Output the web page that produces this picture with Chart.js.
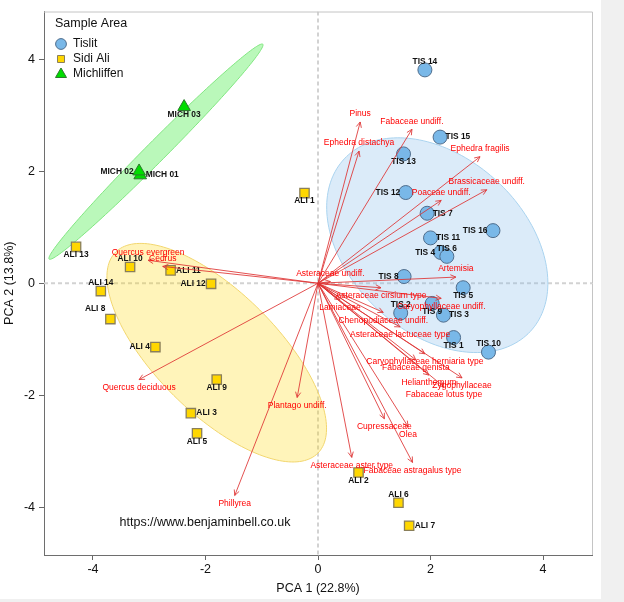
<!DOCTYPE html>
<html><head><meta charset="utf-8">
<script src="https://cdn.jsdelivr.net/npm/chart.js@4.4.1/dist/chart.umd.min.js"></script>
<style>
html,body{margin:0;padding:0;background:#f0f0f0;}
#wrap{width:601px;height:599px;background:#fff;}
canvas{display:block;}
</style></head><body>
<div id="wrap"><canvas id="c" width="601" height="599"></canvas></div>
<script>
// ---- data ----
const xTicks = [-4, -2, 0, 2, 4];
const yTicks = [-4, -2, 0, 2, 4];

const tislitNames = ['TIS 1','TIS 2','TIS 3','TIS 4','TIS 5','TIS 6','TIS 7','TIS 8','TIS 9','TIS 10','TIS 11','TIS 12','TIS 13','TIS 14','TIS 15','TIS 16'];
const tislitX = [2.41, 1.47, 2.23, 2.18, 2.58, 2.29, 1.94, 1.53, 2.03, 3.03, 2.00, 1.56, 1.52, 1.90, 2.17, 3.11];
const tislitY = [-0.97, -0.53, -0.57, 0.55, -0.08, 0.48, 1.25, 0.12, -0.36, -1.23, 0.81, 1.62, 2.31, 3.81, 2.61, 0.94];

const sidiNames = ['ALI 1','ALI 2','ALI 3','ALI 4','ALI 5','ALI 6','ALI 7','ALI 8','ALI 9','ALI 10','ALI 11','ALI 12','ALI 13','ALI 14'];
const sidiX = [-0.24, 0.72, -2.26, -2.89, -2.15, 1.43, 1.62, -3.69, -1.80, -3.34, -2.62, -1.90, -4.30, -3.86];
const sidiY = [1.61, -3.38, -2.32, -1.14, -2.68, -3.92, -4.33, -0.64, -1.72, 0.29, 0.23, -0.01, 0.65, -0.14];

const michNames = ['MICH 01','MICH 02','MICH 03'];
const michX = [-3.16, -3.18, -2.38];
const michY = [1.93, 2.00, 3.15];

const taxaNames = ['Pinus','Ephedra distachya','Fabaceae undiff.','Ephedra fragilis','Brassicaceae undiff.','Poaceae undiff.','Artemisia','Asteraceae undiff.','Quercus evergreen','Cedrus','Asteraceae cirsium type','Caryophyllaceae undiff.','Lamiaceae','Chenopodiaceae undiff.','Asteraceae lactuceae type','Caryophyllaceae herniaria type','Fabaceae genista','Helianthemum','Zygophyllaceae','Fabaceae lotus type','Cupressaceae','Olea','Asteraceae aster type','Fabaceae astragalus type','Plantago undiff.','Phillyrea','Quercus deciduous'];
const taxaX = [0.75, 0.73, 1.67, 2.88, 3.00, 2.19, 2.45, 0.22, -3.02, -2.76, 1.12, 2.19, 0.39, 1.16, 1.46, 1.90, 1.74, 1.97, 2.56, 2.24, 1.18, 1.60, 0.60, 1.68, -0.37, -1.48, -3.18];
const taxaY = [2.88, 2.36, 2.75, 2.26, 1.67, 1.48, 0.11, 0.03, 0.41, 0.30, -0.08, -0.27, -0.30, -0.52, -0.78, -1.26, -1.37, -1.64, -1.69, -1.85, -2.42, -2.56, -3.11, -3.20, -2.04, -3.79, -1.72];

// confidence ellipses (data units): centre, semi-axes, rotation in degrees
const ellipseGroups = ['Tislit', 'Sidi Ali', 'Michliffen'];
const ellipseCX = [2.12, -1.80, -2.88];
const ellipseCY = [0.68, -1.24, 2.35];
const ellipseA = [2.26, 2.54, 2.70];
const ellipseB = [1.56, 1.08, 0.18];
const ellipseAngle = [-43, -45, 45.3];

// ---- label placement (layout only) ----
const tislitSide = ['bottom','top','right','left','bottom','top','right','left','bottom','top','right','left','bottom','top','right','left'];
const sidiSide = ['bottom','bottom','right','left','bottom','top','right','upleft','bottom','top','right','left','bottom','top'];
const michSide = ['right','left','bottom'];

// ---- styles ----
const F = '"Liberation Sans", Arial, Helvetica, sans-serif';
const groupFill = ['#79b8e8', '#ffd700', '#00dd00'];
const groupBorder = ['#4f6d8c', '#8a7f5a', '#2c7a2c'];
const ellipseFill = ['rgba(135,190,235,0.30)', 'rgba(255,215,0,0.27)', 'rgba(0,230,0,0.27)'];
const ellipseStroke = ['#a9d3ef', '#f2d66e', '#80e680'];

function pts(xs, ys) { return xs.map((v, i) => ({x: v, y: ys[i]})); }

const overlay = {
  id: 'overlay',
  beforeDatasetsDraw(chart) {
    const {ctx, chartArea: ca, scales: {x, y}} = chart;
    ctx.save();
    ctx.beginPath(); ctx.rect(ca.left, ca.top, ca.right - ca.left, ca.bottom - ca.top); ctx.clip();
    const x0 = x.getPixelForValue(0), y0 = y.getPixelForValue(0);
    ctx.strokeStyle = '#d2d2d2'; ctx.lineWidth = 2; ctx.setLineDash([4, 3]);
    ctx.beginPath();
    ctx.moveTo(x0, ca.top); ctx.lineTo(x0, ca.bottom);
    ctx.moveTo(ca.left, y0); ctx.lineTo(ca.right, y0);
    ctx.stroke();
    ctx.setLineDash([]);
    for (let i = 0; i < ellipseGroups.length; i++) {
      const th = ellipseAngle[i] * Math.PI / 180;
      ctx.beginPath();
      for (let k = 0; k <= 180; k++) {
        const t = k / 180 * 2 * Math.PI;
        const ex = ellipseA[i] * Math.cos(t), ey = ellipseB[i] * Math.sin(t);
        const dx = ellipseCX[i] + ex * Math.cos(th) - ey * Math.sin(th);
        const dy = ellipseCY[i] + ex * Math.sin(th) + ey * Math.cos(th);
        const px = x.getPixelForValue(dx), py = y.getPixelForValue(dy);
        if (k) ctx.lineTo(px, py); else ctx.moveTo(px, py);
      }
      ctx.closePath();
      ctx.fillStyle = ellipseFill[i]; ctx.fill();
      ctx.strokeStyle = ellipseStroke[i]; ctx.lineWidth = 1; ctx.stroke();
    }
    ctx.restore();
  },
  afterDatasetsDraw(chart) {
    const {ctx, scales: {x, y}} = chart;
    ctx.save();
    // point labels
    ctx.font = 'bold 8.4px ' + F;
    ctx.fillStyle = '#111';
    const groups = [[tislitNames, tislitX, tislitY, tislitSide], [sidiNames, sidiX, sidiY, sidiSide], [michNames, michX, michY, michSide]];
    groups.forEach(([names, xs, ys, sides]) => {
      names.forEach((n, i) => {
        const px = x.getPixelForValue(xs[i]), py = y.getPixelForValue(ys[i]);
        const s = sides[i];
        ctx.textBaseline = 'middle';
        if (s === 'top') { ctx.textAlign = 'center'; ctx.fillText(n, px, py - 8); }
        else if (s === 'bottom') { ctx.textAlign = 'center'; ctx.fillText(n, px, py + 8); }
        else if (s === 'left') { ctx.textAlign = 'right'; ctx.fillText(n, px - 5.5, py); }
        else if (s === 'upleft') { ctx.textAlign = 'right'; ctx.fillText(n, px - 5, py - 10); }
        else { ctx.textAlign = 'left'; ctx.fillText(n, px + 5.5, py); }
      });
    });
    // arrows
    const ox = x.getPixelForValue(0), oy = y.getPixelForValue(0);
    ctx.strokeStyle = 'rgba(222,50,50,0.85)'; ctx.lineWidth = 1;
    taxaNames.forEach((n, i) => {
      const px = x.getPixelForValue(taxaX[i]), py = y.getPixelForValue(taxaY[i]);
      const a = Math.atan2(py - oy, px - ox), L = 6, sp = 0.45;
      ctx.beginPath();
      ctx.moveTo(ox, oy); ctx.lineTo(px, py);
      ctx.moveTo(px - L * Math.cos(a - sp), py - L * Math.sin(a - sp));
      ctx.lineTo(px, py);
      ctx.lineTo(px - L * Math.cos(a + sp), py - L * Math.sin(a + sp));
      ctx.stroke();
    });
    ctx.font = '8.5px ' + F;
    ctx.fillStyle = '#ff0000'; ctx.textAlign = 'center'; ctx.textBaseline = 'middle';
    taxaNames.forEach((n, i) => {
      const px = x.getPixelForValue(taxaX[i]), py = y.getPixelForValue(taxaY[i]);
      ctx.fillText(n, px, py + (taxaY[i] >= 0 ? -8 : 8));
    });
    ctx.restore();
  },
  afterDraw(chart) {
    const {ctx, chartArea: ca} = chart;
    ctx.save();
    // light frame top/right
    ctx.strokeStyle = '#c4c4c4'; ctx.lineWidth = 1;
    ctx.beginPath();
    ctx.moveTo(ca.left, ca.top + 0.5); ctx.lineTo(ca.right + 0.5, ca.top + 0.5); ctx.lineTo(ca.right + 0.5, ca.bottom);
    ctx.stroke();
    // legend
    ctx.fillStyle = '#111'; ctx.font = '12.5px ' + F;
    ctx.textAlign = 'left'; ctx.textBaseline = 'middle';
    ctx.fillText('Sample Area', 55, 24);
    ctx.font = '12px ' + F;
    const labels = ['Tislit', 'Sidi Ali', 'Michliffen'];
    const ly = [44, 59, 74];
    labels.forEach((t, i) => {
      const cx = 61, cy = ly[i];
      ctx.beginPath();
      if (i === 0) ctx.arc(cx, cy, 5.4, 0, 2 * Math.PI);
      else if (i === 1) ctx.rect(cx - 3.5, cy - 3.5, 7, 7);
      else { ctx.moveTo(cx, cy - 6); ctx.lineTo(cx + 5.5, cy + 3.5); ctx.lineTo(cx - 5.5, cy + 3.5); ctx.closePath(); }
      ctx.fillStyle = groupFill[i]; ctx.fill();
      ctx.strokeStyle = groupBorder[i]; ctx.lineWidth = 1; ctx.stroke();
      ctx.fillStyle = '#111';
      ctx.fillText(t, 73, cy);
    });
    // watermark
    ctx.font = '12.5px ' + F; ctx.textAlign = 'center';
    ctx.fillText('https://www.benjaminbell.co.uk', 205, 523);
    ctx.restore();
  }
};

new Chart(document.getElementById('c'), {
  type: 'scatter',
  data: {
    datasets: [
      {label: 'Tislit', data: pts(tislitX, tislitY), pointStyle: 'circle', pointRadius: 7,
       backgroundColor: groupFill[0], borderColor: groupBorder[0], borderWidth: 1},
      {label: 'Sidi Ali', data: pts(sidiX, sidiY), pointStyle: 'rect', pointRadius: 6.6,
       backgroundColor: groupFill[1], borderColor: groupBorder[1], borderWidth: 1.3},
      {label: 'Michliffen', data: pts(michX, michY), pointStyle: 'triangle', pointRadius: 7.3,
       backgroundColor: groupFill[2], borderColor: groupBorder[2], borderWidth: 1}
    ]
  },
  options: {
    responsive: false, animation: false,
    layout: {padding: {top: 8, right: 9, left: 0, bottom: 0}},
    plugins: {legend: {display: false}, tooltip: {enabled: false}},
    scales: {
      x: {
        type: 'linear', min: -4.87, max: 4.87,
        afterBuildTicks: s => { s.ticks = xTicks.map(v => ({value: v})); },
        afterFit: s => { s.height = 44; },
        grid: {drawOnChartArea: false, tickLength: 5, color: '#666'},
        border: {color: '#6e6e6e', width: 1},
        ticks: {font: {size: 12.5, family: F}, color: '#111', padding: 2, maxRotation: 0, autoSkip: false},
        title: {display: true, text: 'PCA 1 (22.8%)', font: {size: 12.5, family: F}, color: '#111', padding: {top: 0, bottom: 3}}
      },
      y: {
        type: 'linear', min: -4.853, max: 4.853,
        afterBuildTicks: s => { s.ticks = yTicks.map(v => ({value: v})); },
        afterFit: s => { s.width = 44; },
        grid: {drawOnChartArea: false, tickLength: 5, color: '#666'},
        border: {color: '#6e6e6e', width: 1},
        ticks: {font: {size: 12.5, family: F}, color: '#111', padding: 4, autoSkip: false},
        title: {display: true, text: 'PCA 2 (13.8%)', font: {size: 12.5, family: F}, color: '#111', padding: {top: 2, bottom: 0}}
      }
    }
  },
  plugins: [overlay]
});
</script>
</body></html>
